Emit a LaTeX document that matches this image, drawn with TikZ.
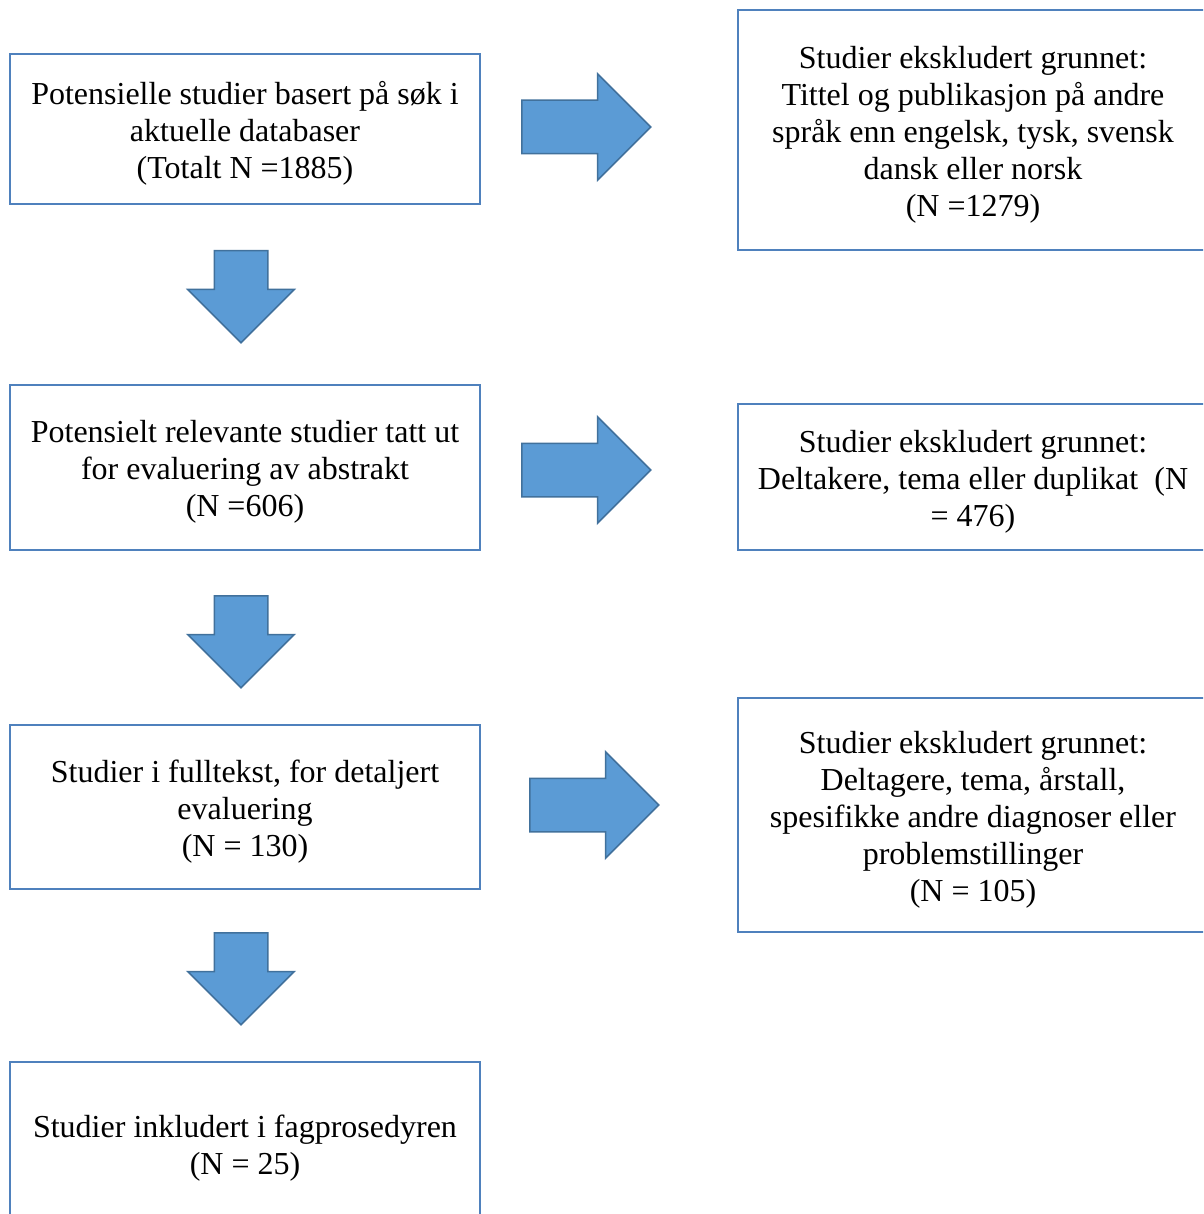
\documentclass[tikz,border=0pt]{standalone}
\usepackage{fontspec}
\setmainfont{Liberation Serif}
\usetikzlibrary{shapes.arrows}

\definecolor{boxline}{HTML}{4F81BD}
\definecolor{arrowfill}{HTML}{5B9BD5}
\definecolor{arrowline}{HTML}{41719C}
\newcommand{\topgap}{\rule{0pt}{31pt}}

\begin{document}
\begin{tikzpicture}[
    x=1pt, y=-1pt,
    stage/.style={
      rectangle, draw=boxline, line width=1.2pt, inner sep=0pt,
      minimum width=470pt, align=center,
      font=\fontsize{32}{37}\selectfont,
    },
    excl/.style={stage},
    blockarrow/.style={
      single arrow, draw=arrowline, fill=arrowfill, line width=1.5pt,
      inner xsep=0pt, inner ysep=26pt, minimum width=105pt,
      single arrow head extend=26.5pt, anchor=tail,
    },
    across/.style={blockarrow, minimum height=129pt},
    downward/.style={blockarrow, minimum height=92pt, rotate=-90},
]
\clip (0,0) rectangle (1203,1214);
\fill[white] (0,0) rectangle (1203,1214);

% main column
\node[stage, minimum height=150pt] (S1) at (245,129)
  {\topgap Potensielle studier basert på søk i\\aktuelle databaser\\(Totalt N =1885)};
\node[stage, minimum height=165pt] (S2) at (245,467.5)
  {\topgap Potensielt relevante studier tatt ut\\for evaluering av abstrakt\\(N =606)};
\node[stage, minimum height=164pt] (S3) at (245,807)
  {\topgap Studier i fulltekst, for detaljert\\evaluering\\(N = 130)};
\node[stage, minimum height=163pt] (S4) at (245,1143.5)
  {\topgap Studier inkludert i fagprosedyren\\(N = 25)};

% excluded
\node[excl, minimum height=240pt] (E1) at (973,130)
  {\topgap Studier ekskludert grunnet:\\Tittel og publikasjon på andre\\språk enn engelsk, tysk, svensk\\dansk eller norsk\\(N =1279)};
\node[excl, minimum height=146pt] (E2) at (973,477)
  {\topgap Studier ekskludert grunnet:\\Deltakere, tema eller duplikat\ \ (N\\= 476)};
\node[excl, minimum height=234pt] (E3) at (973,815)
  {\topgap Studier ekskludert grunnet:\\Deltagere, tema, årstall,\\spesifikke andre diagnoser eller\\problemstillinger\\(N = 105)};

% block arrows
\node[downward] (d1) at (241,250) {};
\node[downward] (d2) at (241,595) {};
\node[downward] (d3) at (241,932) {};
\node[across]   (r1) at (521,127) {};
\node[across]   (r2) at (521,470) {};
\node[across]   (r3) at (529,805) {};
\end{tikzpicture}
\end{document}
